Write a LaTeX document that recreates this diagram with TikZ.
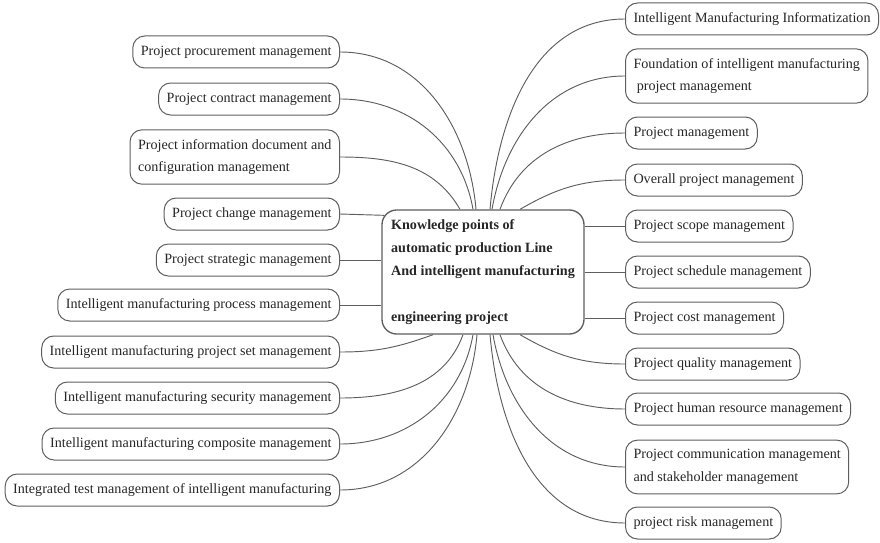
\documentclass[tikz,border=0pt]{standalone}
\usepackage{fontspec}
\setmainfont{Liberation Serif}
\usetikzlibrary{calc}
\definecolor{linegray}{HTML}{5E5E5E}
\definecolor{textgray}{HTML}{262626}

\begin{document}
\begin{tikzpicture}[x=0.75pt,y=-0.75pt,
    leaf node/.style={draw=linegray,line width=0.75pt,rounded corners=9pt,align=left,inner xsep=6pt,inner ysep=7pt,minimum height=24pt,text=textgray,font=\fontsize{10.6}{17}\selectfont},
    hub node/.style={draw=linegray,line width=1pt,rounded corners=11pt,align=left,inner xsep=6pt,minimum width=151.5pt,minimum height=93pt,text=textgray,font=\bfseries\fontsize{10.6}{17.25}\selectfont},
    link/.style={draw=linegray,line width=0.7pt}]

\useasboundingbox (0,0) rectangle (880,542);

\node[hub node]                (hub) at (483,272) {Knowledge points of\\automatic production Line\\And intelligent manufacturing\\\mbox{}\\engineering project};

% left side
\node[leaf node,anchor=east]   (l1)  at (340,52)  {Project procurement management};
\node[leaf node,anchor=east]   (l2)  at (340,99)  {Project contract management};
\node[leaf node,anchor=east]   (l3)  at (340,157) {Project information document and\\configuration management};
\node[leaf node,anchor=east]   (l4)  at (340,214) {Project change management};
\node[leaf node,anchor=east]   (l5)  at (340,260) {Project strategic management};
\node[leaf node,anchor=east]   (l6)  at (340,305) {Intelligent manufacturing process management};
\node[leaf node,anchor=east]   (l7)  at (340,352) {Intelligent manufacturing project set management};
\node[leaf node,anchor=east]   (l8)  at (340,398) {Intelligent manufacturing security management};
\node[leaf node,anchor=east]   (l9)  at (340,444) {Intelligent manufacturing composite management};
\node[leaf node,anchor=east]   (l10) at (340,490) {Integrated test management of intelligent manufacturing};

% right side
\node[leaf node,anchor=west]   (r1)  at (625,19)  {Intelligent Manufacturing Informatization};
\node[leaf node,anchor=west]   (r2)  at (625,76)  {Foundation of intelligent manufacturing\\\hspace*{2.5pt}project management};
\node[leaf node,anchor=west]   (r3)  at (625,133) {Project management};
\node[leaf node,anchor=west]   (r4)  at (625,180) {Overall project management};
\node[leaf node,anchor=west]   (r5)  at (625,226) {Project scope management};
\node[leaf node,anchor=west]   (r6)  at (625,272) {Project schedule management};
\node[leaf node,anchor=west]   (r7)  at (625,318) {Project cost management};
\node[leaf node,anchor=west]   (r8)  at (625,364) {Project quality management};
\node[leaf node,anchor=west]   (r9)  at (625,409) {Project human resource management};
\node[leaf node,anchor=west]   (r10) at (625,467) {Project communication management\\and stakeholder management};
\node[leaf node,anchor=west]   (r11) at (625,523) {project risk management};

\path[]
(l1.east) edge[link,out=0,in=95]  ($(hub.north)+(-7,0)$)
(l2.east) edge[link,out=0,in=100] ($(hub.north)+(-10,0)$)
(l3.east) edge[link,out=0,in=120] ($(hub.north)+(-23,0)$)
(l4.east) edge[link]              ($(hub.north west)+(3,6)$)
(l5.east) edge[link]              (l5.east -| hub.west)
(l6.east) edge[link]              (l6.east -| hub.west)
(l7.east) edge[link,out=0,in=200] ($(hub.south)+(-50,0)$)
(l8.east) edge[link,out=0,in=250] ($(hub.south)+(-20,0)$)
(l9.east) edge[link,out=0,in=260] ($(hub.south)+(-10,0)$)
(l10.east) edge[link,out=0,in=265] ($(hub.south)+(-6,0)$)

($(hub.north)+(7,0)$)  edge[link,out=85,in=180]  (r1.west)
($(hub.north)+(9,0)$)  edge[link,out=80,in=180]  (r2.west)
($(hub.north)+(17,0)$) edge[link,out=70,in=180]  (r3.west)
($(hub.north)+(37,0)$) edge[link,out=30,in=180]  (r4.west)
(r5.west -| hub.east)  edge[link]                (r5.west)
(r6.west -| hub.east)  edge[link]                (r6.west)
(r7.west -| hub.east)  edge[link]                (r7.west)
($(hub.south)+(37,0)$) edge[link,out=-30,in=180] (r8.west)
($(hub.south)+(17,0)$) edge[link,out=-70,in=180] (r9.west)
($(hub.south)+(10,0)$) edge[link,out=-80,in=180] (r10.west)
($(hub.south)+(7,0)$)  edge[link,out=-85,in=180] (r11.west)
;
\end{tikzpicture}
\end{document}
